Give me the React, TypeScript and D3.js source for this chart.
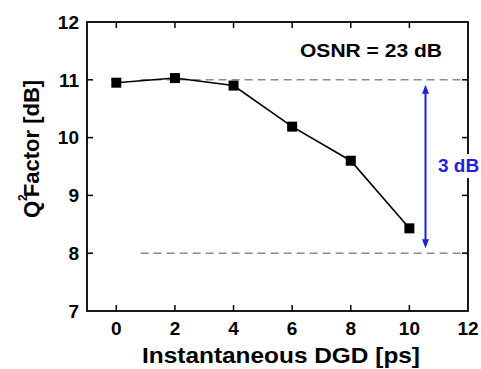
import * as d3 from "d3";

const dgd = [0, 2, 4, 6, 8, 10];
const qFactor = [10.95, 11.03, 10.9, 10.19, 9.6, 8.43];
const xTicks = [0, 2, 4, 6, 8, 10, 12];
const yTicks = [7, 8, 9, 10, 11, 12];
const refLevels = [11, 8];
const arrowX = 10.55;

const font = "'Liberation Sans', Arial, sans-serif";

export default function App() {
  const width = 481;
  const height = 369;
  const plot = { left: 87, top: 22, right: 468, bottom: 311 };

  const x = d3.scaleLinear().domain([-1, 12]).range([plot.left, plot.right]);
  const y = d3.scaleLinear().domain([7, 12]).range([plot.bottom, plot.top]);

  const line = d3
    .line<number>()
    .x((_, i) => x(dgd[i]))
    .y((d) => y(d));

  const tickLen = 6;
  const innerX = xTicks.filter((t) => t > -1 && t < 12);
  const innerY = yTicks.filter((t) => t > 7 && t < 12);
  const blue = "#1f1fe0";

  return (
    <svg
      width={width}
      height={height}
      style={{ position: "absolute", left: 0, top: 0, background: "#fff" }}
      fontFamily={font}
      fontWeight="bold"
    >
      {/* reference levels */}
      {refLevels.map((v) => (
        <line
          key={v}
          x1={x(0.83)}
          x2={x(12)}
          y1={y(v)}
          y2={y(v)}
          stroke="#8c8c8c"
          strokeWidth={1.5}
          strokeDasharray="8,5"
        />
      ))}

      {/* ticks */}
      {innerX.map((t) => (
        <g key={"x" + t}>
          <line x1={x(t)} x2={x(t)} y1={plot.bottom} y2={plot.bottom - tickLen} stroke="#000" strokeWidth={1.5} />
          <line x1={x(t)} x2={x(t)} y1={plot.top} y2={plot.top + tickLen} stroke="#000" strokeWidth={1.5} />
        </g>
      ))}
      {innerY.map((t) => (
        <g key={"y" + t}>
          <line x1={plot.left} x2={plot.left + tickLen} y1={y(t)} y2={y(t)} stroke="#000" strokeWidth={1.5} />
          <line x1={plot.right} x2={plot.right - tickLen} y1={y(t)} y2={y(t)} stroke="#000" strokeWidth={1.5} />
        </g>
      ))}

      {/* frame */}
      <rect
        x={plot.left}
        y={plot.top}
        width={plot.right - plot.left}
        height={plot.bottom - plot.top}
        fill="none"
        stroke="#000"
        strokeWidth={1.8}
      />

      {/* tick labels */}
      {xTicks.map((t) => (
        <text key={"xl" + t} x={x(t)} y={335} textAnchor="middle" fontSize={19}>
          {t}
        </text>
      ))}
      {yTicks.map((t) => (
        <text key={"yl" + t} x={79} y={y(t)} dy="0.36em" textAnchor="end" fontSize={19}>
          {t}
        </text>
      ))}

      {/* data */}
      <path d={line(qFactor) ?? ""} fill="none" stroke="#000" strokeWidth={1.6} />
      {qFactor.map((v, i) => (
        <rect key={"m" + i} x={x(dgd[i]) - 5} y={y(v) - 5} width={10} height={10} fill="#000" />
      ))}

      {/* 3 dB arrow */}
      <line x1={x(arrowX)} x2={x(arrowX)} y1={y(11) + 8} y2={y(8) - 8} stroke={blue} strokeWidth={2} />
      <path
        d={`M${x(arrowX)},${y(11) + 5} l-3.5,9 l7,0 Z`}
        fill={blue}
      />
      <path
        d={`M${x(arrowX)},${y(8) - 5} l-3.5,-9 l7,0 Z`}
        fill={blue}
      />
      <rect x={436} y={154} width={45} height={24} fill="#fff" />
      <text x={438} y={172} fontSize={19} fill={blue}>
        3 dB
      </text>

      <text x={300} y={57} fontSize={19} textLength={142} lengthAdjust="spacingAndGlyphs">
        OSNR = 23 dB
      </text>

      {/* axis titles */}
      <text x={142} y={363} fontSize={22} textLength={278} lengthAdjust="spacingAndGlyphs">
        Instantaneous DGD [ps]
      </text>
      <text transform="translate(39,218) rotate(-90)" fontSize={22}>
        Q<tspan fontSize={12} dy={-12}>2</tspan>
        <tspan dy={12} dx={-3}>Factor [dB]</tspan>
      </text>
    </svg>
  );
}
